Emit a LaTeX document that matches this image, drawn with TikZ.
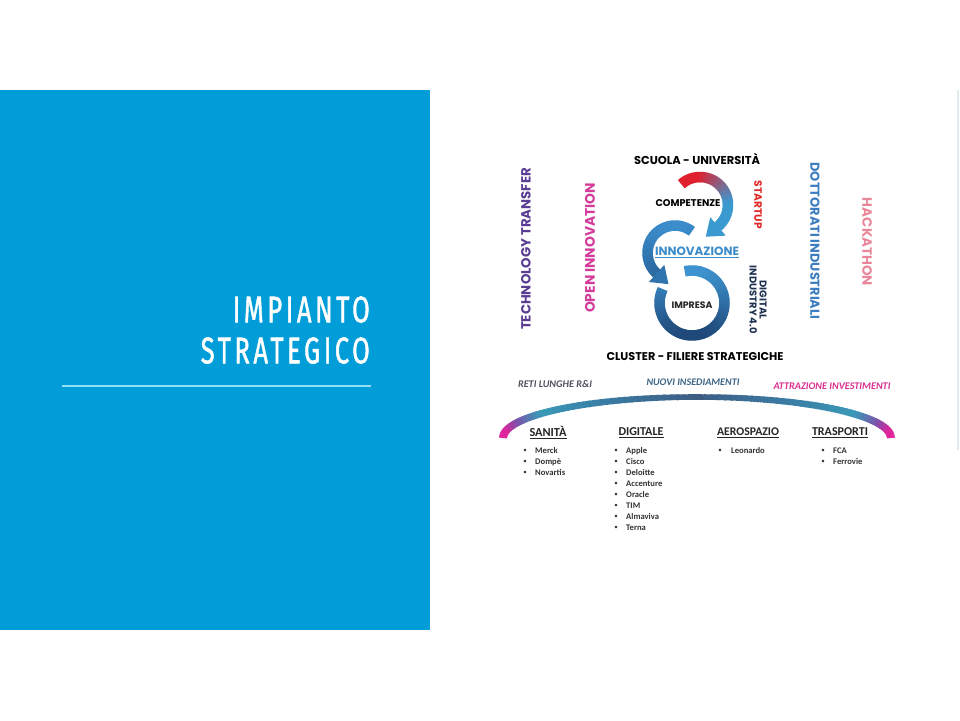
\documentclass[tikz,border=0pt]{standalone}
\usepackage{fontspec}
\setmainfont{Carlito}
\newfontfamily\pop{Poppins}
\newfontfamily\ttlfont{Fira Sans}[LetterSpace=14,FakeBold=1.6]
\usepackage{graphicx}
\usetikzlibrary{calc}
\definecolor{panel}{RGB}{0,157,216}
\definecolor{titleline}{RGB}{150,222,246}
\definecolor{techpurple}{HTML}{5A3D92}
\definecolor{openmag}{HTML}{D43C9C}
\definecolor{startred}{HTML}{E02828}
\definecolor{dottblue}{HTML}{3D7EC0}
\definecolor{hackpink}{HTML}{E8879A}
\definecolor{digitalnavy}{HTML}{1E3250}
\definecolor{innoblue}{HTML}{3B8CC8}
\definecolor{arcred}{HTML}{E0202E}
\definecolor{arcblue}{HTML}{3A9AD0}
\definecolor{midblue}{HTML}{3A8CCB}
\definecolor{ringtop}{HTML}{3D93CF}
\definecolor{ringbot}{HTML}{1E4878}
\definecolor{archmag}{HTML}{E0249C}
\definecolor{archpurple}{HTML}{7E50A8}
\definecolor{archteal}{HTML}{3A9AB8}
\definecolor{archtealb}{HTML}{3A7FA6}
\definecolor{archslate}{HTML}{3E5C84}
\definecolor{retigray}{HTML}{505060}
\definecolor{nuoviblue}{HTML}{3D6585}
\definecolor{attrmag}{HTML}{D93090}
\definecolor{faint}{RGB}{222,238,238}
\newcommand\archcolor[1]{%
 \pgfmathsetmacro\myd{#1}%
 \ifdim\myd pt<10pt \colorlet{cur}{archmag}%
 \else\ifdim\myd pt<22pt \pgfmathtruncatemacro\myp{100*(\myd-10)/12}\colorlet{cur}{archpurple!\myp!archmag}%
 \else\ifdim\myd pt<36pt \pgfmathtruncatemacro\myp{100*(\myd-22)/14}\colorlet{cur}{archteal!\myp!archpurple}%
 \else\ifdim\myd pt<60pt \pgfmathtruncatemacro\myp{100*(\myd-36)/24}\colorlet{cur}{archtealb!\myp!archteal}%
 \else \pgfmathtruncatemacro\myp{100*(\myd-60)/30}\colorlet{cur}{archslate!\myp!archtealb}%
 \fi\fi\fi\fi}
\tikzset{
 lbl/.style={inner sep=0pt, font=\pop\bfseries},
 hdr/.style={inner sep=0pt, font=\bfseries, text=black!85},
 ital/.style={inner sep=0pt, font=\bfseries\itshape},
 bul/.style={inner sep=0pt, font=\fontsize{7}{8}\selectfont, text=black!80},
 btxt/.style={inner sep=0pt, anchor=west, font=\fontsize{8.6}{9}\selectfont\bfseries, text=black!80},
 ttl/.style={inner sep=0pt, anchor=south east, text=white, font=\ttlfont},
}
\begin{document}
\begin{tikzpicture}[x=1pt,y=1pt]
\useasboundingbox (0,0) rectangle (960,720);
\fill[white] (0,0) rectangle (960,720);
% left panel
\fill[panel] (0,90) rectangle (430,630);
\node[ttl] (t1) at (370,397) {\resizebox{137pt}{26pt}{IMPIANTO}};
\node[ttl] (t2) at (370,356) {\resizebox{169pt}{26pt}{STRATEGICO}};
\coordinate (l1) at (62,334);
\coordinate (l2) at (371,334);
\draw[titleline, line width=1.2pt] (l1) -- (l2);
% faint right line
\coordinate (f1) at (958,630);
\coordinate (f2) at (958,270);
\draw[faint, line width=1.5pt] (f1) -- (f2);
% centres of the rings
\coordinate (C1) at (700,515);
\coordinate (C2) at (675,467);
\coordinate (C3) at (692,417);
% lower ring
\foreach \i in {0,...,79}{
 \pgfmathsetmacro\aS{103-\i*3.8375}
 \pgfmathsetmacro\aE{\aS-5.3}
 \pgfmathtruncatemacro\myp{50*(1-sin(\aS-1.9))}
 \colorlet{cur}{ringbot!\myp!ringtop}
 \draw[line width=10.5pt,cur] (C3) ++(\aS:32.5) arc[start angle=\aS,end angle=\aE,radius=32.5];
}
% middle arc
\foreach \i in {0,...,39}{
 \pgfmathsetmacro\aS{52+\i*4.4}
 \pgfmathsetmacro\aE{\aS+5.8}
 \pgfmathtruncatemacro\myp{30*(1-sin(\aS))}
 \colorlet{cur}{ringbot!\myp!midblue}
 \draw[line width=10.5pt,cur] (C2) ++(\aS:27.5) arc[start angle=\aS,end angle=\aE,radius=27.5];
}
\fill[ringbot!35!midblue] ($(C2)+(228:39)$) -- ($(C2)+(228:16)$) -- ($(C2)+(228:27.5)+(318:16)$) -- cycle;
% upper arc
\foreach \i in {0,...,59}{
 \pgfmathsetmacro\aS{132-\i*3.0333}
 \pgfmathsetmacro\aE{\aS-4.5}
 \pgfmathsetmacro\myq{\i/59}
 \pgfmathtruncatemacro\myp{100*max(0,min(1,(\myq-0.2)/0.5))}
 \colorlet{cur}{arcblue!\myp!arcred}
 \draw[line width=10.5pt,cur] (C1) ++(\aS:28) arc[start angle=\aS,end angle=\aE,radius=28];
}
\fill[arcblue] ($(C1)+(-50:40)$) -- ($(C1)+(-50:16)$) -- ($(C1)+(-50:28)+(-140:16)$) -- cycle;
% central texts
\node[lbl, text=black] (scuola) at (697,561) {\resizebox{126pt}{!}{SCUOLA - UNIVERSITÀ}};
\node[lbl, text=black] (comp) at (688,517) {\resizebox{65pt}{!}{COMPETENZE}};
\node[lbl, text=innoblue] (inno) at (697,468) {\resizebox{84pt}{!}{\underline{INNOVAZIONE}}};
\node[lbl, text=black!85] (impr) at (692,415) {\resizebox{41pt}{!}{IMPRESA}};
\node[lbl, text=black] (clus) at (695,363) {\resizebox{177pt}{!}{CLUSTER - FILIERE STRATEGICHE}};
% rotated texts
\node[lbl, text=techpurple, rotate=90] (tech) at (526,471) {\resizebox{162pt}{!}{TECHNOLOGY TRANSFER}};
\node[lbl, text=openmag, rotate=90] (open) at (590,472) {\resizebox{130pt}{!}{OPEN INNOVATION}};
\node[lbl, text=startred, rotate=-90] (start) at (758,515) {\resizebox{48pt}{!}{STARTUP}};
\node[lbl, text=dottblue, rotate=-90] (dott) at (815,479) {\resizebox{157pt}{!}{DOTTORATI INDUSTRIALI}};
\node[lbl, text=hackpink, rotate=-90] (hack) at (867,478) {\resizebox{88pt}{!}{HACKATHON}};
\node[lbl, text=digitalnavy, rotate=-90] (dig) at (757,420) {\resizebox{68pt}{!}{\begin{tabular}{@{}c@{}}DIGITAL\\[-2pt]INDUSTRY 4.0\end{tabular}}};
% arch
\foreach \i in {0,...,89}{
 \pgfmathsetmacro\aS{180-2*\i}
 \pgfmathsetmacro\aE{max(\aS-2.6,0)}
 \pgfmathsetmacro\dmid{min(\aS-1,181-\aS)}
 \archcolor{\dmid}
 \pgfmathsetmacro\lw{5.5+2.5*(1-\dmid/90)}
 \draw[line width=\lw pt, cur] (697,282) ++(\aS:194 and 41) arc[start angle=\aS,end angle=\aE,x radius=194,y radius=41];
}
% labels above arch
\node[ital, text=retigray] (reti) at (555,336) {\resizebox{74pt}{!}{RETI LUNGHE R\&I}};
\node[ital, text=nuoviblue] (nuovi) at (693,338) {\resizebox{93pt}{!}{NUOVI INSEDIAMENTI}};
\node[ital, text=attrmag] (attr) at (832,334) {\resizebox{117pt}{!}{ATTRAZIONE INVESTIMENTI}};
% headers
\node[hdr] (san) at (548,287) {\resizebox{37pt}{!}{\underline{SANITÀ}}};
\node[hdr] (digi) at (641,287) {\resizebox{45pt}{!}{\underline{DIGITALE}}};
\node[hdr] (aero) at (748,287) {\resizebox{62pt}{!}{\underline{AEROSPAZIO}}};
\node[hdr] (tras) at (840,287) {\resizebox{56pt}{!}{\underline{TRASPORTI}}};
% bullets
\foreach \t [count=\k from 0] in {Merck,Dompè,Novartis}{
 \node[bul] (sb\k) at (525,269-11*\k) {\textbullet};
 \node[btxt] (st\k) at (535,269-11*\k) {\t};
}
\foreach \t [count=\k from 0] in {Apple,Cisco,Deloitte,Accenture,Oracle,TIM,Almaviva,Terna}{
 \node[bul] (db\k) at (616,269-11*\k) {\textbullet};
 \node[btxt] (dt\k) at (626,269-11*\k) {\t};
}
\node[bul] (ab0) at (720,269) {\textbullet};
\node[btxt] (at0) at (731,269) {Leonardo};
\foreach \t [count=\k from 0] in {FCA,Ferrovie}{
 \node[bul] (tb\k) at (823,269-11*\k) {\textbullet};
 \node[btxt] (tt\k) at (833,269-11*\k) {\t};
}
\end{tikzpicture}
\end{document}
